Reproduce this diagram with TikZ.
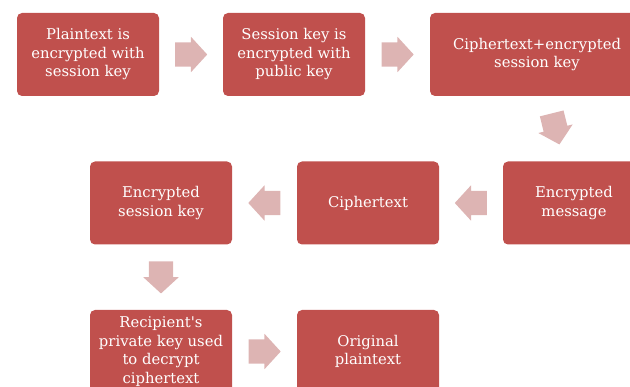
\documentclass[tikz,border=0pt]{standalone}
\usepackage{fontspec}
\setmainfont{DejaVu Serif}
\usepackage{tikz}
\usetikzlibrary{shapes.arrows, calc}
\definecolor{boxred}{HTML}{C0504D}
\definecolor{arrowpink}{HTML}{DDB4B3}
\tikzset{
	stepbox/.style={fill=boxred, rounded corners=5pt, minimum width=142pt, minimum height=83pt,
		text=white, align=center, inner sep=2pt, font=\fontsize{14.8}{18.5}\selectfont},
	blockarrow/.style={single arrow, fill=arrowpink, draw=none, inner xsep=0pt, inner ysep=12pt,
		minimum width=35pt, minimum height=32pt, single arrow head extend=5.5pt,
		single arrow tip angle=95, anchor=tail},
}

\begin{document}
\begin{tikzpicture}[x=1pt,y=1pt]
		\useasboundingbox (0,0) rectangle (630,-387);
		\clip (0,0) rectangle (630,-387);
		\node[stepbox] (plain) at (88,-54.5) {Plaintext is\\encrypted with\\session key};
		\node[stepbox] (sesskey) at (294,-54.5) {Session key is\\encrypted with\\public key};
		\node[stepbox, minimum width=214pt] (cipherkey) at (537,-54.5) {Ciphertext+encrypted\\session key};
		\node[stepbox] (encmsg) at (574,-203) {Encrypted\\message};
		\node[stepbox] (cipher) at (368,-203) {Ciphertext};
		\node[stepbox] (enckey) at (161,-203) {Encrypted\\session key};
		\node[stepbox] (recip) at (161,-351.5) {Recipient\textquotesingle s\\private key used\\to decrypt\\ciphertext};
		\node[stepbox] (orig) at (368,-351.5) {Original\\plaintext};
		\node[blockarrow] at ($(plain.east)!0.5!(sesskey.west)!16pt!(plain.east)$) {};
		\node[blockarrow] at ($(sesskey.east)!0.5!(cipherkey.west)!16pt!(sesskey.east)$) {};
		\node[blockarrow, rotate=284] at ($(cipherkey)!0.5!(encmsg)!16pt!(cipherkey)$) {};
		\node[blockarrow, rotate=180] at ($(encmsg.west)!0.5!(cipher.east)!16pt!(encmsg.west)$) {};
		\node[blockarrow, rotate=180] at ($(cipher.west)!0.5!(enckey.east)!16pt!(cipher.west)$) {};
		\node[blockarrow, rotate=270] at ($(enckey.south)!0.5!(recip.north)!16pt!(enckey.south)$) {};
		\node[blockarrow] at ($(recip.east)!0.5!(orig.west)!16pt!(recip.east)$) {};
	\end{tikzpicture}
\end{document}
